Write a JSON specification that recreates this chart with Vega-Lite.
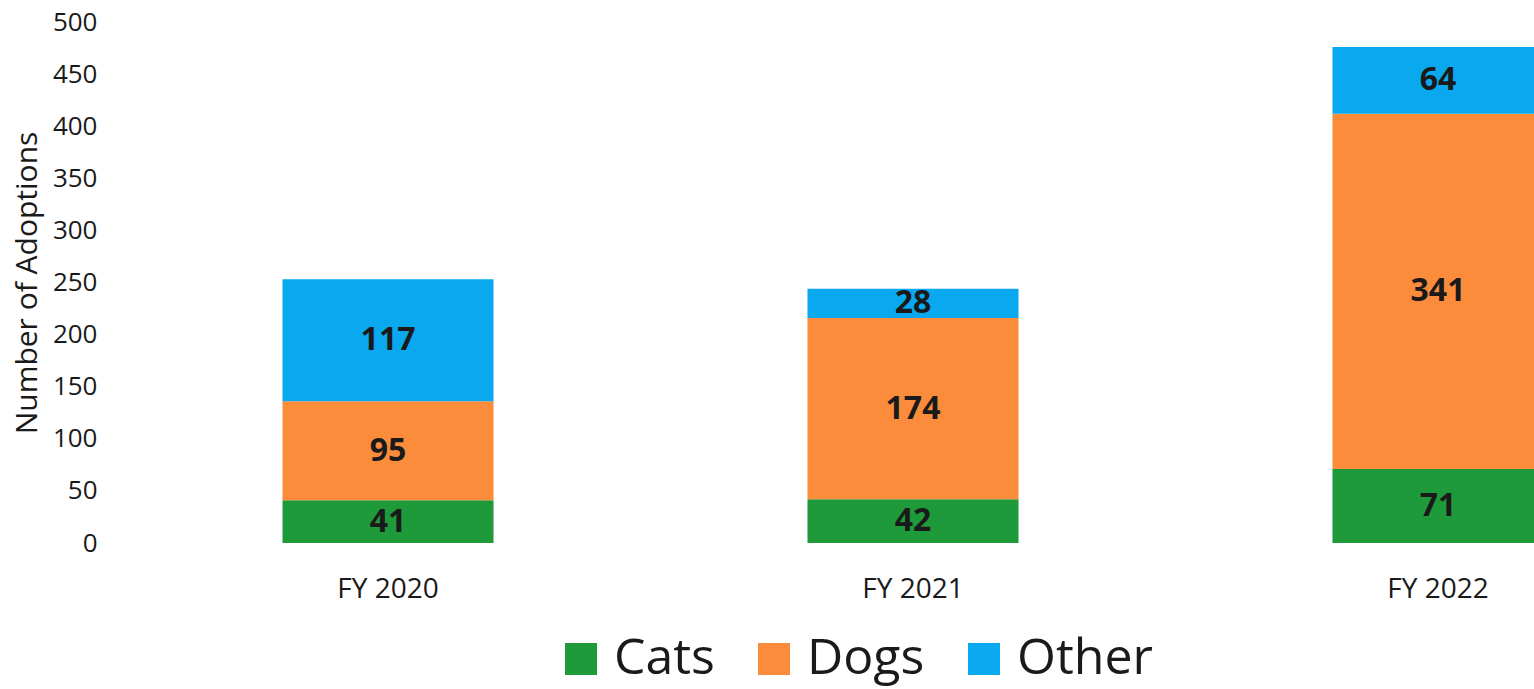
{
  "$schema": "https://vega.github.io/schema/vega-lite/v6.json",
  "autosize": {"type": "none"},
  "padding": {"left": 110, "top": 22, "right": 0, "bottom": 146},
  "width": 1424,
  "height": 521,
  "background": "white",
  "config": {
    "view": {"stroke": null},
    "font": "Open Sans"
  },
  "data": {
    "values": [
      {"year": "FY 2020", "type": "Cats", "count": 41},
      {"year": "FY 2020", "type": "Dogs", "count": 95},
      {"year": "FY 2020", "type": "Other", "count": 117},
      {"year": "FY 2021", "type": "Cats", "count": 42},
      {"year": "FY 2021", "type": "Dogs", "count": 174},
      {"year": "FY 2021", "type": "Other", "count": 28},
      {"year": "FY 2022", "type": "Cats", "count": 71},
      {"year": "FY 2022", "type": "Dogs", "count": 341},
      {"year": "FY 2022", "type": "Other", "count": 64}
    ]
  },
  "encoding": {
    "x": {
      "field": "year",
      "type": "nominal",
      "sort": null,
      "scale": {"range": [172.5, 1433.5], "paddingInner": 0.598, "paddingOuter": 0},
      "axis": {
        "title": null,
        "labelAngle": 0,
        "domain": false,
        "ticks": false,
        "labelFontSize": 28,
        "labelColor": "#1a1a1a",
        "labelPadding": 32
      }
    },
    "y": {
      "field": "count",
      "type": "quantitative",
      "stack": "zero",
      "scale": {"domain": [0, 500]},
      "axis": {
        "title": "Number of Adoptions",
        "titleFontSize": 30,
        "titleFontWeight": "normal",
        "titleColor": "#1a1a1a",
        "titlePadding": 10,
        "values": [0, 50, 100, 150, 200, 250, 300, 350, 400, 450, 500],
        "domain": false,
        "ticks": false,
        "grid": false,
        "labelFontSize": 26,
        "labelColor": "#1a1a1a",
        "labelPadding": 13
      }
    },
    "order": {"field": "type", "type": "nominal", "sort": "ascending"},
    "detail": {"field": "type", "type": "nominal"}
  },
  "layer": [
    {
      "mark": {"type": "bar", "clip": true},
      "encoding": {
        "color": {
          "field": "type",
          "type": "nominal",
          "scale": {"domain": ["Cats", "Dogs", "Other"], "range": ["#1f9a3a", "#fa8c3c", "#0aa8ef"]},
          "legend": {
            "title": null,
            "orient": "none",
            "direction": "horizontal",
            "legendX": 446,
            "legendY": 612,
            "symbolType": "square",
            "symbolSize": 1024,
            "symbolStrokeWidth": 0,
            "symbolOpacity": 1,
            "labelFontSize": 50,
            "labelColor": "#1a1a1a",
            "labelOffset": 8,
            "labelLimit": 400,
            "columnPadding": 34,
            "padding": 0
          }
        }
      }
    },
    {
      "mark": {"type": "text", "fontSize": 32, "fontWeight": "bold", "color": "#1a1a1a", "baseline": "middle"},
      "encoding": {
        "y": {"field": "count", "type": "quantitative", "stack": "zero", "bandPosition": 0.5},
        "text": {"field": "count", "type": "quantitative"}
      }
    }
  ]
}
